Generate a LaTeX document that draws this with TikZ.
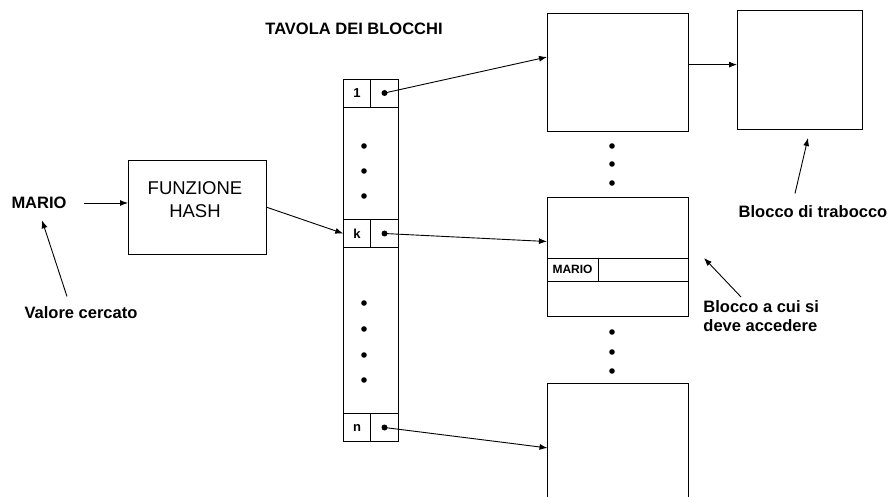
\documentclass[tikz,border=0pt]{standalone}
\usepackage{fontspec}
\setmainfont{Liberation Sans}
\usetikzlibrary{arrows.meta,positioning,calc}
\tikzset{every picture/.style={line width=0.9pt}}
\tikzset{
  blk/.style={draw, inner sep=0pt, outer sep=0pt},
  cell/.style={draw, minimum width=27.5pt, minimum height=28pt, inner sep=0pt, outer sep=0pt, font=\fontsize{13}{15}\selectfont\bfseries},
  lbl/.style={inner sep=2pt, font=\fontsize{16.5}{19}\selectfont\bfseries},
  arr/.style={-{Latex[length=8pt,width=6pt]}},
  pnt/.style={circle, fill, inner sep=0pt, minimum size=6pt},
}

\begin{document}
\begin{tikzpicture}[x=1pt,y=1pt,yscale=-1,xscale=1]
\useasboundingbox (0,0) rectangle (892,497);

% Text Node
\node[lbl] (title) at (354,29) {TAVOLA DEI BLOCCHI};
% Text Node
\node[lbl] (mario) at (39,203) {MARIO};
% Text Node
\node[lbl] (valore) at (81,313) {Valore cercato};

%Shape: Rectangle
\node[blk, minimum width=138pt, minimum height=94pt] (hash) at (197,207) {};
% Text Node
\node[font=\fontsize{18.5}{23}\selectfont, align=center] (hashtxt) at (195,200) {FUNZIONE\\HASH};

%Table cells
\node[cell] (c1l) at (357,93) {1};
\node[cell, right=0pt of c1l] (c1r) {};
\node[cell] (ckl) at (357,233.5) {k};
\node[cell, right=0pt of ckl] (ckr) {};
\node[cell] (cnl) at (357,427.5) {n};
\node[cell, right=0pt of cnl] (cnr) {};
%Shape: Rectangle
\draw (c1l.north west) rectangle (cnr.south east);
\foreach \y in {146,171,196,303,329,355,380} \fill (364,\y) circle (2.8);

%Pointers
\node[pnt] (p1) at (c1r) {};
\node[pnt] (pk) at (ckr) {};
\node[pnt] (pn) at (cnr) {};

%Shape: Rectangle
\node[blk, minimum width=141pt, minimum height=118pt] (blkA) at (617.5,72) {};
%Shape: Rectangle
\node[blk, minimum width=125pt, minimum height=119pt] (blkB) at (799.5,69.5) {};
%Shape: Rectangle
\node[blk, minimum width=141pt, minimum height=119pt] (blkC) at (617.5,256.5) {};
\node[blk, minimum width=51pt, minimum height=23pt, font=\fontsize{12}{14}\selectfont\bfseries] (rec) at (572.5,269.5) {MARIO};
\node[blk, minimum width=90pt, minimum height=23pt, right=0pt of rec] (recrest) {};
%Shape: Rectangle
\node[blk, minimum width=141pt, minimum height=120pt] (blkD) at (618,443) {};
\foreach \y in {146,164,183,332,352,371} \fill (612,\y) circle (2.8);

% Text Node
\node[lbl] (trab) at (813,212) {Blocco di trabocco};
% Text Node
\node[lbl, align=left, anchor=west] (acc) at (701,316) {Blocco a cui si\\deve accedere};

%Straight Lines
\draw[arr] ($(mario.east)+(15,0)$) -- (mario.east -| hash.west);
\draw[arr] ($(valore.north)+(-14,-8)$) -- ($(mario.south)+(3,9)$);
\draw[arr] (hash.east) -- (ckl.west);
\draw[arr] (p1.center) -- (blkA.168);
\draw[arr] (pk.center) -- (blkC.168);
\draw[arr] (pn.center) -- (blkD.184);
\draw[arr] (blkA.6.5) -- (blkA.6.5 -| blkB.west);
\draw[arr] ($(trab.north)+(-18,-10)$) -- ($(blkB.south)+(8.5,9)$);
\draw[arr] ($(acc.north west)+(40,-1)$) -- ($(blkC.east)+(16,1.5)$);

\end{tikzpicture}
\end{document}
